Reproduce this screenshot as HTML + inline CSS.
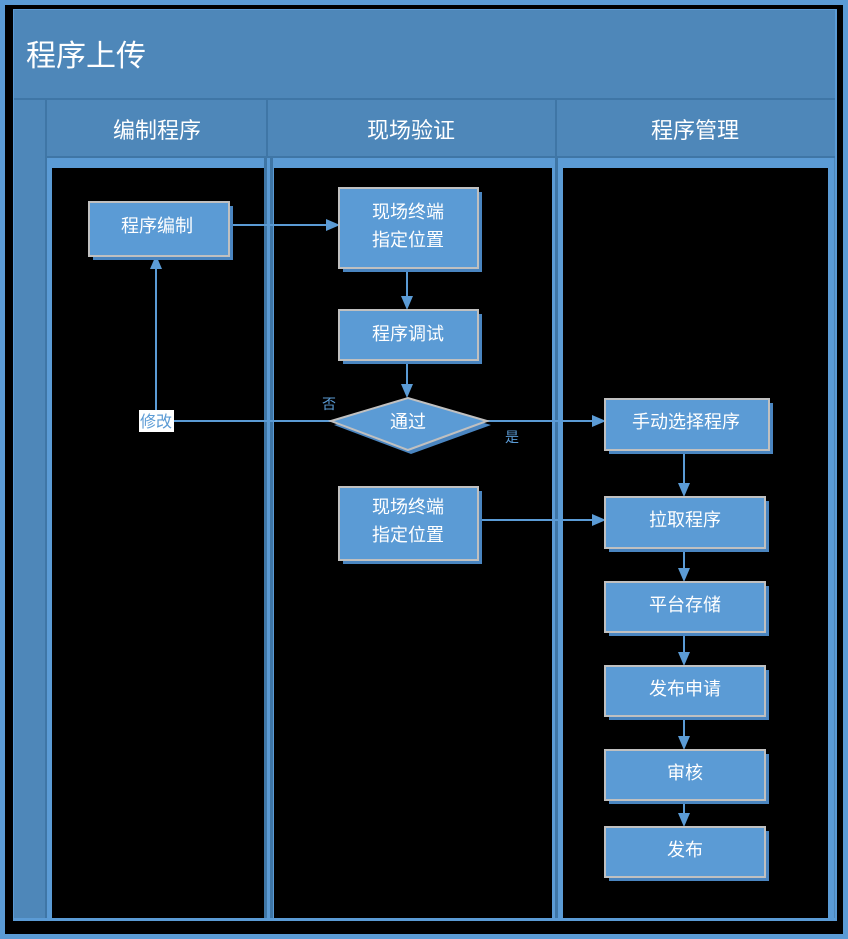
<!DOCTYPE html>
<html><head><meta charset="utf-8"><style>
html,body{margin:0;padding:0;background:#000}
svg{display:block}
text{font-family:"Liberation Sans","Noto Sans CJK SC",sans-serif;fill:#fff}
</style></head><body>
<svg width="848" height="939" xmlns="http://www.w3.org/2000/svg">
<rect x="0" y="0" width="848" height="939" fill="#5b9bd5"/>
<rect x="5" y="5" width="838" height="929" fill="#000"/>
<rect x="13" y="9" width="824" height="912" fill="#5b9bd5"/>
<rect x="14" y="10" width="821" height="908" fill="#4e87b9"/>
<line x1="14" y1="99" x2="835" y2="99" stroke="#3f76a6" stroke-width="2"/>
<line x1="46" y1="157" x2="835" y2="157" stroke="#3f76a6" stroke-width="2"/>
<line x1="46" y1="99" x2="46" y2="918" stroke="#3f76a6" stroke-width="2"/>
<line x1="267" y1="99" x2="267" y2="157" stroke="#3f76a6" stroke-width="2"/>
<line x1="556" y1="99" x2="556" y2="157" stroke="#3f76a6" stroke-width="2"/>
<rect x="47" y="158" width="787" height="760" fill="#5b9bd5"/>
<rect x="52" y="168" width="212" height="750" fill="#000"/>
<rect x="274" y="168" width="278" height="750" fill="#000"/>
<rect x="563" y="168" width="265" height="750" fill="#000"/>
<rect x="264" y="158" width="3" height="760" fill="#3f76a6"/>
<rect x="270" y="158" width="3" height="760" fill="#3f76a6"/>
<rect x="555" y="158" width="3" height="760" fill="#3f76a6"/>
<text x="26" y="66" font-size="30">程序上传</text>
<text x="157" y="138" font-size="22" text-anchor="middle">编制程序</text>
<text x="411" y="138" font-size="22" text-anchor="middle">现场验证</text>
<text x="695" y="138" font-size="22" text-anchor="middle">程序管理</text>
<g stroke="#5b9bd5" stroke-width="2" fill="none">
<line x1="229" y1="225" x2="330" y2="225"/>
<line x1="407" y1="268" x2="407" y2="302"/>
<line x1="407" y1="360" x2="407" y2="390"/>
<line x1="331" y1="421" x2="156" y2="421"/>
<line x1="156" y1="421" x2="156" y2="265"/>
<line x1="487" y1="421" x2="596" y2="421"/>
<line x1="478" y1="520" x2="596" y2="520"/>
<line x1="684" y1="450" x2="684" y2="488"/>
<line x1="684" y1="548" x2="684" y2="574"/>
<line x1="684" y1="632" x2="684" y2="658"/>
<line x1="684" y1="716" x2="684" y2="742"/>
<line x1="684" y1="800" x2="684" y2="819"/>
</g>
<g fill="#5b9bd5">
<polygon points="340,225 326,219 326,231"/>
<polygon points="407,310 401,296 413,296"/>
<polygon points="407,398 401,384 413,384"/>
<polygon points="156,255 150,269 162,269"/>
<polygon points="606,421 592,415 592,427"/>
<polygon points="606,520 592,514 592,526"/>
<polygon points="684,497 678,483 690,483"/>
<polygon points="684,582 678,568 690,568"/>
<polygon points="684,666 678,652 690,652"/>
<polygon points="684,750 678,736 690,736"/>
<polygon points="684,827 678,813 690,813"/>
</g>
<rect x="139" y="410" width="35" height="22" fill="#fff"/>
<text x="156" y="427" font-size="16" text-anchor="middle" style="fill:#5b9bd5">修改</text>
<text x="329" y="409" font-size="14" text-anchor="middle" style="fill:#5b9bd5">否</text>
<text x="512" y="442" font-size="14" text-anchor="middle" style="fill:#5b9bd5">是</text>
<g stroke="#c0c0c0" stroke-width="2" fill="#5b9bd5">
<rect x="93" y="206" width="140" height="54" fill="#4a85c0" stroke="none"/>
<rect x="89" y="202" width="140" height="54"/>
<rect x="343" y="192" width="139" height="80" fill="#4a85c0" stroke="none"/>
<rect x="339" y="188" width="139" height="80"/>
<rect x="343" y="314" width="139" height="50" fill="#4a85c0" stroke="none"/>
<rect x="339" y="310" width="139" height="50"/>
<polygon points="334,425 411,402 491,425 411,454" fill="#4a85c0" stroke="none"/>
<polygon points="331,421 408,398 487,421 408,450"/>
<rect x="343" y="491" width="139" height="73" fill="#4a85c0" stroke="none"/>
<rect x="339" y="487" width="139" height="73"/>
<rect x="609" y="403" width="164" height="51" fill="#4a85c0" stroke="none"/>
<rect x="605" y="399" width="164" height="51"/>
<rect x="609" y="501" width="160" height="51" fill="#4a85c0" stroke="none"/>
<rect x="605" y="497" width="160" height="51"/>
<rect x="609" y="586" width="160" height="50" fill="#4a85c0" stroke="none"/>
<rect x="605" y="582" width="160" height="50"/>
<rect x="609" y="670" width="160" height="50" fill="#4a85c0" stroke="none"/>
<rect x="605" y="666" width="160" height="50"/>
<rect x="609" y="754" width="160" height="50" fill="#4a85c0" stroke="none"/>
<rect x="605" y="750" width="160" height="50"/>
<rect x="609" y="831" width="160" height="50" fill="#4a85c0" stroke="none"/>
<rect x="605" y="827" width="160" height="50"/>
</g>
<g font-size="18" text-anchor="middle">
<text x="157" y="232">程序编制</text>
<text x="408" y="218">现场终端</text>
<text x="408" y="246">指定位置</text>
<text x="408" y="340">程序调试</text>
<text x="408" y="428">通过</text>
<text x="408" y="513">现场终端</text>
<text x="408" y="541">指定位置</text>
<text x="686" y="428">手动选择程序</text>
<text x="685" y="526">拉取程序</text>
<text x="685" y="611">平台存储</text>
<text x="685" y="695">发布申请</text>
<text x="685" y="779">审核</text>
<text x="685" y="856">发布</text>
</g>
</svg>
</body></html>
